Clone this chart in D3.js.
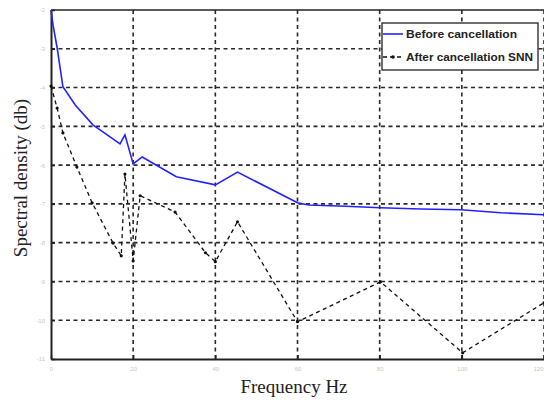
<!DOCTYPE html>
<html><head><meta charset="utf-8">
<script src="https://cdn.jsdelivr.net/npm/d3@7"></script>
<style>body{margin:0;background:#fff}svg{display:block}</style>
</head><body>
<svg id="c" width="544" height="400"></svg>
<script>
// Data (frequency Hz, spectral density)
const xTicks = [0, 20, 40, 60, 80, 100, 120];
const xTickLabels = ["0", "20", "40", "60", "80", "100", "120"];
const yTicks = [-2, -3, -4, -5, -6, -7, -8, -9, -10, -11];
const yTickLabels = ["-2", "-3", "-4", "-5", "-6", "-7", "-8", "-9", "-10", "-11"];

const beforeFreq = [0, 0.5, 1.5, 2.9, 5.9, 10.2, 16.8, 18.0, 20.0, 22.2, 30.5, 40.0, 45.4, 60.0, 62.7, 71.7, 80.2, 90.0, 99.8, 109.5, 120];
const beforeVal  = [-2, -2.39, -2.98, -3.98, -4.45, -4.96, -5.45, -5.22, -5.97, -5.79, -6.30, -6.51, -6.18, -6.97, -7.03, -7.06, -7.10, -7.13, -7.15, -7.23, -7.28];

const afterFreq = [0, 1.5, 2.9, 6.3, 10.0, 15.1, 17.1, 18.0, 20.0, 21.7, 30.2, 37.6, 40.0, 45.4, 60.0, 80.2, 100.2, 120];
const afterVal  = [-3.96, -4.53, -5.17, -6.05, -6.97, -8.01, -8.34, -6.23, -8.47, -6.79, -7.21, -8.26, -8.49, -7.46, -10.04, -9.01, -10.84, -9.55];

const seriesNames = ["Before cancellation", "After cancellation SNN"];

const svg = d3.select("#c");
const L = 51, R = 544, T = 10, B = 359;
const x = d3.scaleLinear().domain([0, 120]).range([L, R]);
const y = d3.scaleLinear().domain([-11, -2]).range([B, T]);

// grid
const grid = svg.append("g").attr("stroke", "#2a2a2a").attr("stroke-width", 1.6).attr("stroke-dasharray", "4,3.5");
grid.selectAll("line.v").data(xTicks.slice(1)).join("line")
  .attr("x1", d => x(d)).attr("x2", d => x(d)).attr("y1", T).attr("y2", B);
grid.selectAll("line.h").data(yTicks.slice(1, -1)).join("line")
  .attr("x1", L).attr("x2", R).attr("y1", d => y(d)).attr("y2", d => y(d));

// axes frame
const xAxis = d3.axisBottom(x).tickValues(xTicks).tickFormat((d, i) => xTickLabels[i]).tickSizeInner(-4).tickSizeOuter(0).tickPadding(8);
const yAxis = d3.axisLeft(y).tickValues(yTicks).tickFormat((d, i) => yTickLabels[i]).tickSizeInner(-4).tickSizeOuter(0).tickPadding(6);
const gx = svg.append("g").attr("transform", `translate(0,${B})`).call(xAxis);
const gy = svg.append("g").attr("transform", `translate(${L},0)`).call(yAxis);
[gx, gy].forEach(g => {
  g.select(".domain").attr("stroke", "#222").attr("stroke-width", 2);
  g.selectAll(".tick line").attr("stroke", "#222").attr("stroke-width", 1.5);
  g.selectAll(".tick text").attr("fill", "#c8c8c8").attr("font-size", 6).attr("font-family", "Liberation Sans, sans-serif");
});
gx.selectAll(".tick text").filter(d => d === 120).attr("text-anchor", "end").attr("dx", -1);
svg.append("line").attr("x1", L).attr("x2", R).attr("y1", T).attr("y2", T).attr("stroke", "#222").attr("stroke-width", 1.5);

// lines
const beforeData = beforeFreq.map((f, i) => [f, beforeVal[i]]);
const afterData = afterFreq.map((f, i) => [f, afterVal[i]]);
const line = d3.line().x(d => x(d[0])).y(d => y(d[1]));
svg.append("path").datum(beforeData).attr("d", line).attr("fill", "none").attr("stroke", "#2222ff").attr("stroke-width", 1.6);
svg.append("path").datum(afterData).attr("d", line).attr("fill", "none").attr("stroke", "#111").attr("stroke-width", 1.3).attr("stroke-dasharray", "4,3.5");
svg.append("g").selectAll("circle").data(afterData).join("circle")
  .attr("cx", d => x(d[0])).attr("cy", d => y(d[1])).attr("r", 1.6).attr("fill", "#111");

// legend
const lg = svg.append("g");
lg.append("rect").attr("x", 382).attr("y", 23).attr("width", 156).attr("height", 47).attr("fill", "#fff").attr("stroke", "#222").attr("stroke-width", 1.3);
lg.append("line").attr("x1", 383).attr("x2", 403).attr("y1", 34).attr("y2", 34).attr("stroke", "#2222ff").attr("stroke-width", 1.6);
lg.append("line").attr("x1", 383).attr("x2", 403).attr("y1", 57).attr("y2", 57).attr("stroke", "#111").attr("stroke-width", 1.3).attr("stroke-dasharray", "4,3");
lg.append("circle").attr("cx", 393).attr("cy", 57).attr("r", 1.8).attr("fill", "#111");
lg.append("text").attr("x", 406).attr("y", 38).attr("font-size", 11).attr("font-weight", "bold")
  .attr("font-family", "Liberation Sans Narrow, Arial Narrow, Liberation Sans, sans-serif").attr("fill", "#222")
  .attr("textLength", 111).attr("lengthAdjust", "spacingAndGlyphs").text(seriesNames[0]);
lg.append("text").attr("x", 406).attr("y", 61).attr("font-size", 11).attr("font-weight", "bold")
  .attr("font-family", "Liberation Sans Narrow, Arial Narrow, Liberation Sans, sans-serif").attr("fill", "#222")
  .attr("textLength", 127).attr("lengthAdjust", "spacingAndGlyphs").text(seriesNames[1]);

// axis titles
svg.append("text").attr("x", 294).attr("y", 393).attr("text-anchor", "middle")
  .attr("font-family", "Liberation Serif, Times New Roman, serif").attr("font-size", 19).attr("fill", "#222").text("Frequency Hz");
svg.append("text").attr("transform", "translate(27,178) rotate(-90)").attr("text-anchor", "middle")
  .attr("font-family", "Liberation Serif, Times New Roman, serif").attr("font-size", 19).attr("fill", "#222").text("Spectral density (db)");
</script>
</body></html>
